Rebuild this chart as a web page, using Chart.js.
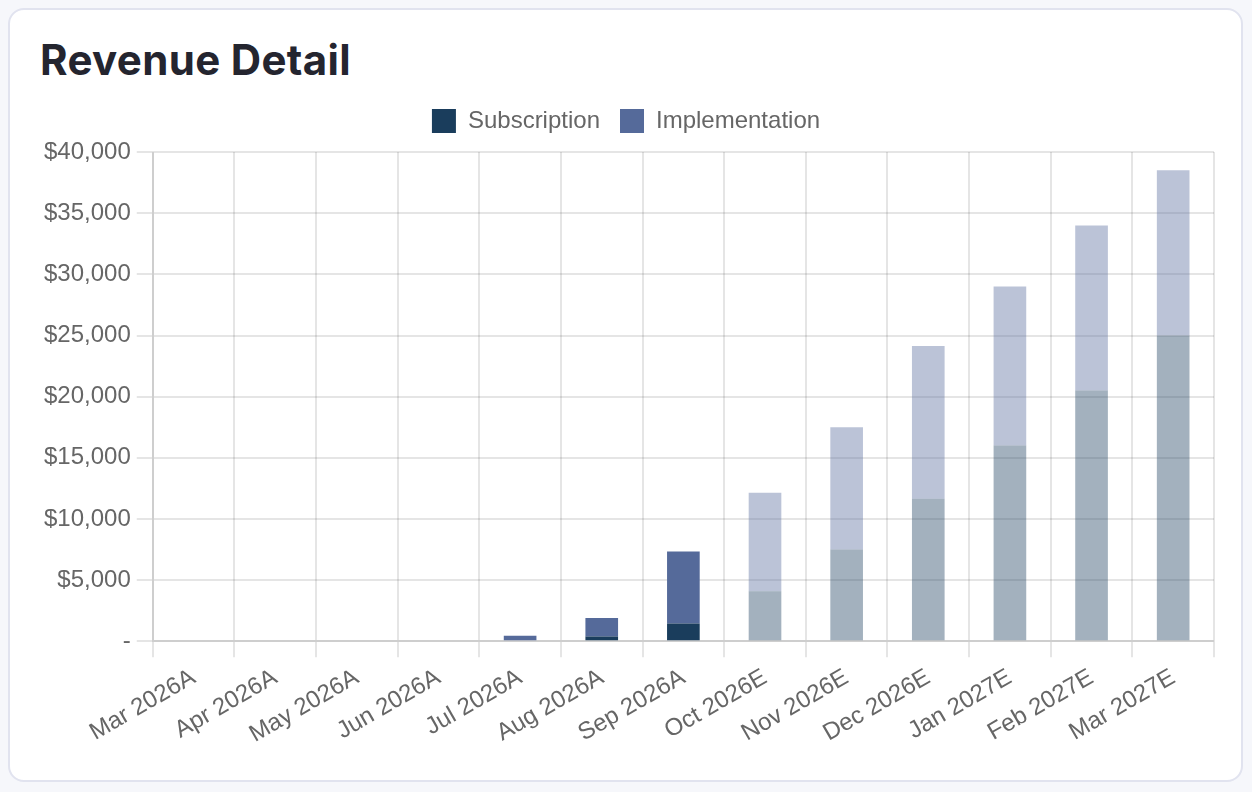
<!DOCTYPE html>
<html>
<head>
<meta charset="utf-8">
<script src="https://cdn.jsdelivr.net/npm/chart.js@4"></script>
<style>
  html, body { margin: 0; padding: 0; background: #f6f7fb; width: 1252px; height: 792px; overflow: hidden; }
  .card { position: absolute; left: 8px; top: 8px; width: 1235px; height: 774px; background: #fff;
          border: 2px solid #e1e3ef; border-radius: 16px; box-sizing: border-box; }
  h1 { position: absolute; left: 40px; top: 39px; margin: 0; font-family: Inter, "Open Sans", sans-serif;
       font-weight: 700; font-size: 42px; line-height: 1; color: #24252f; white-space: nowrap; }
  .wrap { position: absolute; left: 22px; top: 89px; width: 1206px; height: 666px; }
</style>
</head>
<body>
<div class="card"></div>
<h1 id="t">Revenue Detail</h1>
<div class="wrap"><canvas id="c"></canvas></div>
<script>
const categories = ["Mar 2026A","Apr 2026A","May 2026A","Jun 2026A","Jul 2026A","Aug 2026A","Sep 2026A",
                    "Oct 2026E","Nov 2026E","Dec 2026E","Jan 2027E","Feb 2027E","Mar 2027E"];
const subscription   = [0, 0, 0, 0, 0, 400, 1450, 4100, 7500, 11650, 16000, 20500, 25000];
const implementation = [0, 0, 0, 0, 450, 1500, 5900, 8050, 10000, 12500, 13000, 13500, 13500];
const yTicks = [0, 5000, 10000, 15000, 20000, 25000, 30000, 35000, 40000];

// fit title to the reference width
(function () {
  const t = document.getElementById("t");
  const w = t.getBoundingClientRect().width;
  const target = 311;
  t.style.letterSpacing = ((target - w) / (t.textContent.length)) + "px";
})();

const SUB = [26, 61, 92], IMP = [85, 106, 154];
const rgba = (c, a) => `rgba(${c[0]},${c[1]},${c[2]},${a})`;
const isEst = categories.map(c => c.endsWith("E"));
const FONT = "'Liberation Sans', Arial, Helvetica, sans-serif";

const legendGap = {
  id: "legendGap",
  beforeInit(chart) {
    const orig = chart.legend.fit;
    chart.legend.fit = function () { orig.call(this); this.height += 9; };
  }
};

new Chart(document.getElementById("c"), {
  type: "bar",
  plugins: [legendGap],
  data: {
    labels: categories,
    datasets: [
      { label: "Subscription", data: subscription,
        backgroundColor: isEst.map(e => e ? rgba(SUB, 0.4) : rgba(SUB, 1)),
        borderWidth: 0, barPercentage: 0.5, categoryPercentage: 0.8 },
      { label: "Implementation", data: implementation,
        backgroundColor: isEst.map(e => e ? rgba(IMP, 0.4) : rgba(IMP, 1)),
        borderWidth: 0, barPercentage: 0.5, categoryPercentage: 0.8 }
    ]
  },
  options: {
    responsive: true, maintainAspectRatio: false, animation: false,
    layout: { padding: { left: 16, right: 14, top: 0, bottom: 0 } },
    plugins: {
      tooltip: { enabled: false },
      legend: {
        position: "top",
        labels: {
          font: { family: FONT, size: 24 }, color: "#666",
          boxWidth: 24, boxHeight: 24, padding: 20,
          generateLabels: (chart) => chart.data.datasets.map((d, i) => ({
            text: d.label, fillStyle: i === 0 ? rgba(SUB, 1) : rgba(IMP, 1), fontColor: "#666",
            strokeStyle: "rgba(0,0,0,0)", lineWidth: 0, datasetIndex: i, hidden: false
          }))
        }
      }
    },
    scales: {
      x: {
        stacked: true,
        grid: { color: "rgba(0,0,0,0.1)", lineWidth: 2, tickLength: 16 },
        border: { color: "rgba(0,0,0,0.1)", width: 2 },
        ticks: { font: { family: FONT, size: 24 }, color: "#666", minRotation: 30, maxRotation: 30, padding: 6 }
      },
      y: {
        stacked: true, min: 0, max: 40000,
        afterBuildTicks: (axis) => { axis.ticks = yTicks.map(v => ({ value: v })); },
        grid: { color: "rgba(0,0,0,0.1)", lineWidth: 2, tickLength: 16 },
        border: { color: "rgba(0,0,0,0.1)", width: 2 },
        ticks: { font: { family: FONT, size: 24 }, color: "#666", padding: 6,
                 callback: (v) => v === 0 ? "-" : "$" + Number(v).toLocaleString("en-US") }
      }
    }
  }
});
</script>
</body>
</html>
